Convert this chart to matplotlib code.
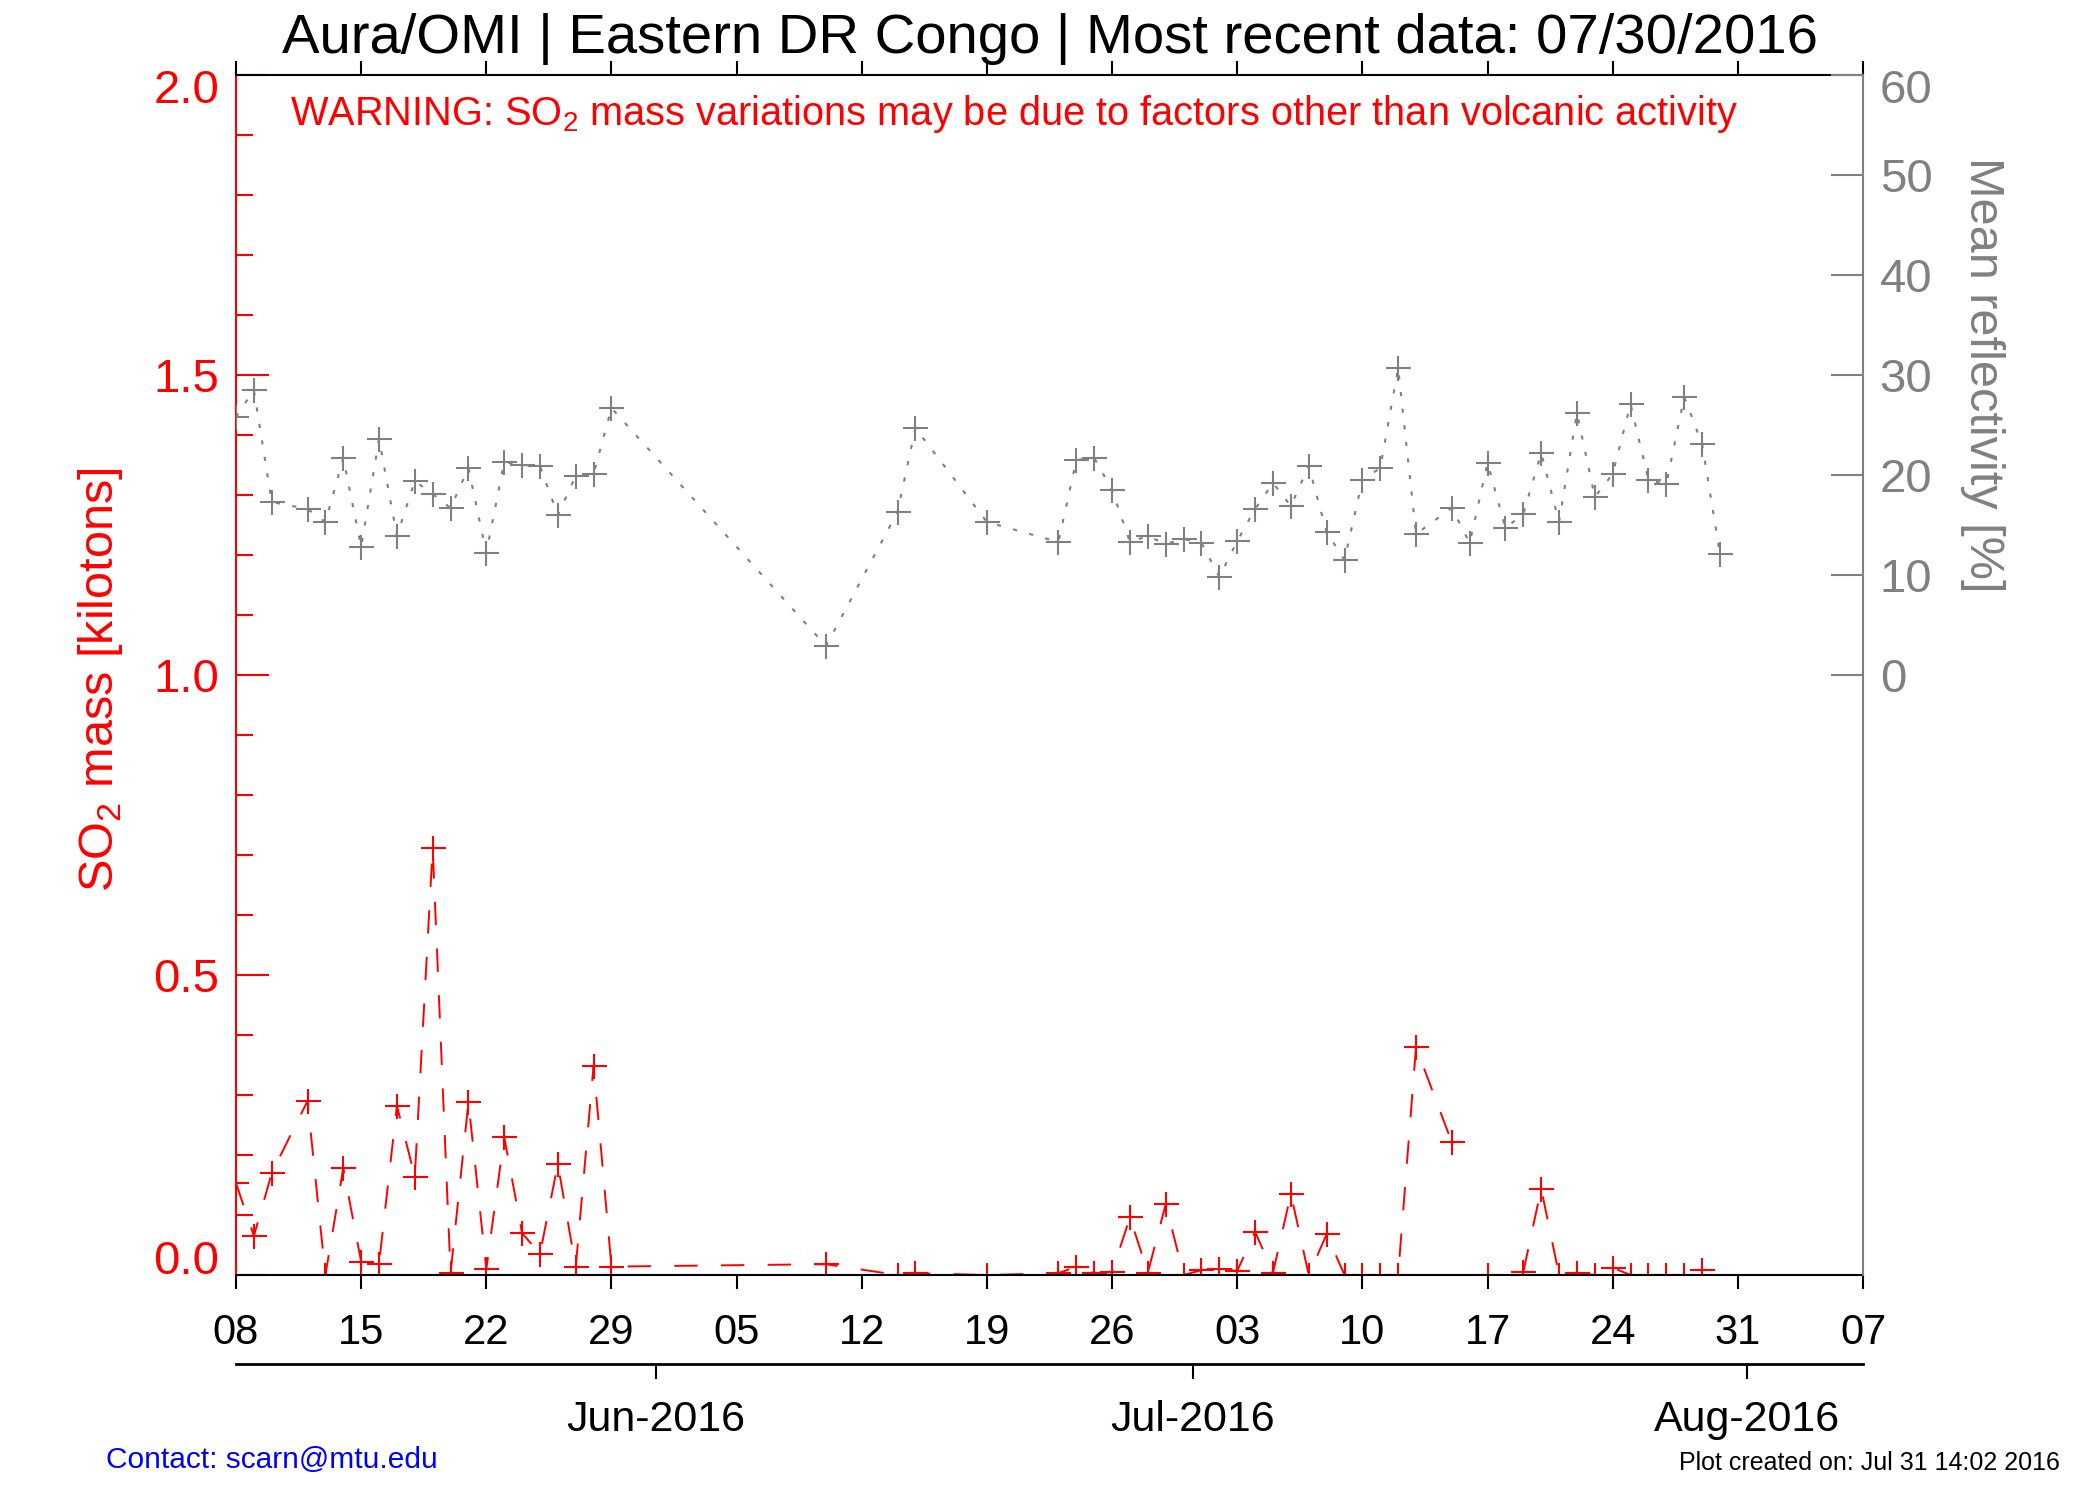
import matplotlib
matplotlib.use("Agg")
import matplotlib.pyplot as plt
import matplotlib.dates as mdates
import matplotlib.transforms as mtransforms
import numpy as np
import pandas as pd
from matplotlib.ticker import FixedLocator, FormatStrFormatter, MultipleLocator

plt.rcParams["font.family"] = ["Liberation Sans", "DejaVu Sans"]
plt.rcParams["mathtext.fontset"] = "custom"
plt.rcParams["mathtext.rm"] = "Liberation Sans"

RED = "#ff0000"
GRAY = "#808080"

obs_dates = [
    "2016-05-08", "2016-05-09", "2016-05-10", "2016-05-12", "2016-05-13", "2016-05-14",
    "2016-05-15", "2016-05-16", "2016-05-17", "2016-05-18", "2016-05-19", "2016-05-20",
    "2016-05-21", "2016-05-22", "2016-05-23", "2016-05-24", "2016-05-25", "2016-05-26",
    "2016-05-27", "2016-05-28", "2016-05-29",
    "2016-06-10", "2016-06-14", "2016-06-15", "2016-06-19", "2016-06-23", "2016-06-24",
    "2016-06-25", "2016-06-26", "2016-06-27", "2016-06-28", "2016-06-29", "2016-06-30",
    "2016-07-01", "2016-07-02", "2016-07-03", "2016-07-04", "2016-07-05", "2016-07-06",
    "2016-07-07", "2016-07-08", "2016-07-09", "2016-07-10", "2016-07-11", "2016-07-12",
    "2016-07-13",
    "2016-07-15", "2016-07-16", "2016-07-17", "2016-07-18", "2016-07-19", "2016-07-20",
    "2016-07-21", "2016-07-22", "2016-07-23", "2016-07-24", "2016-07-25", "2016-07-26",
    "2016-07-27", "2016-07-28", "2016-07-29", "2016-07-30",
]

so2_mass = [
    0.153, 0.065, 0.17, 0.29, 0.0, 0.178, 0.022, 0.019, 0.282, 0.164, 0.712, 0.003,
    0.288, 0.01, 0.23, 0.07, 0.035, 0.185, 0.013, 0.349, 0.014,
    0.018, 0.0, 0.003, 0.0, 0.003, 0.014, 0.003, 0.005, 0.096, 0.004, 0.118, 0.0,
    0.008, 0.01, 0.007, 0.072, 0.004, 0.135, 0.0, 0.068, 0.0, 0.0, 0.0, 0.0, 0.38,
    0.221, np.nan, 0.0, np.nan, 0.005, 0.144, 0.0, 0.003, 0.0, 0.012, 0.0, 0.0,
    0.0, 0.0, 0.008, np.nan,
]

reflectivity = [
    25.8, 28.5, 17.3, 16.6, 15.3, 21.7, 12.8, 23.6, 13.9, 19.4, 18.1, 16.7,
    20.7, 12.2, 21.3, 21.0, 20.9, 16.0, 19.9, 20.1, 26.7,
    2.9, 16.3, 24.7, 15.3, 13.3, 21.5, 21.7, 18.5, 13.3, 13.9, 13.1, 13.6,
    13.2, 9.8, 13.4, 16.6, 19.2, 16.9, 20.9, 14.3, 11.5, 19.5, 20.7, 30.7, 14.1,
    16.7, 13.2, 21.2, 14.7, 16.1, 22.2, 15.3, 26.2, 17.8, 20.1, 27.1, 19.5,
    19.1, 27.8, 23.1, 12.1,
]

so2_ticks = [0.0, 0.5, 1.0, 1.5, 2.0]
refl_ticks = [0, 10, 20, 30, 40, 50, 60]
month_starts = ["2016-06-01", "2016-07-01", "2016-08-01"]

title = "Aura/OMI | Eastern DR Congo | Most recent data: 07/30/2016"
warning = ("WARNING: SO$_2$ mass variations may be due to factors other than "
           "volcanic activity")

# IDL julian days sit at noon
x = pd.to_datetime(obs_dates) + pd.Timedelta(hours=12)
week_ticks = pd.date_range("2016-05-08 12:00", "2016-08-07 12:00", freq="7D")

fig = plt.figure(figsize=(21, 15), dpi=100)
ax = fig.add_axes([236 / 2100, 225 / 1500, 1627 / 2100, 1200 / 1500])
ax2 = ax.twinx()

ax.plot(x, so2_mass, color=RED, lw=1.4, linestyle=(0, (12, 12)),
        marker="+", ms=18, mew=1.5)
ax2.plot(x, reflectivity, color=GRAY, lw=1.5, linestyle=(0, (2, 6)),
         marker="+", ms=18, mew=1.5)

ax.set_xlim(week_ticks[0], week_ticks[-1])
ax.set_ylim(0, 2.0)
ax2.set_ylim(-60, 60)

# left axis
ax.yaxis.set_major_locator(FixedLocator(so2_ticks))
ax.yaxis.set_minor_locator(MultipleLocator(0.1))
ax.yaxis.set_major_formatter(FormatStrFormatter("%.1f"))
ax.tick_params(axis="y", which="major", direction="in", length=24, width=1.5,
               color=RED, labelcolor=RED, labelsize=34, pad=12)
ax.tick_params(axis="y", which="minor", direction="in", length=12, width=1.5,
               color=RED)
ax.spines["left"].set_color(RED)
ax.spines["right"].set_visible(False)
for s in ["left", "top", "bottom"]:
    ax.spines[s].set_linewidth(1.5)

# bottom/top day ticks
ax.set_xticks(week_ticks)
ax.xaxis.set_major_formatter(mdates.DateFormatter("%d"))
ax.tick_params(axis="x", which="both", direction="out", length=10, width=1.5,
               top=True, labelsize=30, pad=17)
ax.xaxis.set_minor_locator(FixedLocator([]))

# right axis
ax2.set_yticks(refl_ticks)
ax2.tick_params(axis="y", direction="in", length=23, width=1.5, color=GRAY,
                labelcolor=GRAY, labelsize=34, pad=12)
for s in ["left", "top", "bottom"]:
    ax2.spines[s].set_visible(False)
ax2.spines["right"].set_color(GRAY)
ax2.spines["right"].set_linewidth(1.5)

# end labels nudged inside the axis like IDL does
def nudge(tick, dy_px):
    lab = tick.label1 if tick.label1.get_visible() else tick.label2
    off = mtransforms.ScaledTranslation(0, dy_px / 100, fig.dpi_scale_trans)
    lab.set_transform(lab.get_transform() + off)

left_ticks = ax.yaxis.get_major_ticks()
nudge(left_ticks[0], 18)
nudge(left_ticks[-1], -11)
right_ticks = ax2.yaxis.get_major_ticks()
nudge(right_ticks[-1], -11)

# month axis underneath
sec = ax.secondary_xaxis(-89 / 1200)
sec.set_xticks(pd.to_datetime(month_starts))
sec.xaxis.set_major_formatter(mdates.DateFormatter("%b-%Y"))
sec.tick_params(axis="x", direction="out", length=11, width=1.5, labelsize=31,
                pad=15)
sec.spines["bottom"].set_linewidth(2)

# texts
fig.text(1049.5 / 2100, 1 - 53 / 1500, title, ha="center", va="baseline",
         fontsize=40.5)
fig.text(290 / 2100, 1 - 125 / 1500, warning, ha="left", va="baseline",
         fontsize=28.6, color=RED)
fig.text(101 / 2100, 1 - 680 / 1500, "SO$_2$ mass [kilotons]", rotation=90,
         ha="center", va="center", fontsize=35, color=RED)
fig.text(1983 / 2100, 1 - 375 / 1500, "Mean reflectivity [%]", rotation=-90,
         ha="center", va="center", fontsize=35, color=GRAY)
fig.text(106 / 2100, 1 - 1468 / 1500, "Contact: scarn@mtu.edu", ha="left",
         va="baseline", fontsize=21.5, color="#0000ff")
fig.text(2060 / 2100, 1 - 1470 / 1500, "Plot created on: Jul 31 14:02 2016",
         ha="right", va="baseline", fontsize=18)

fig.savefig("out.png", dpi=100, facecolor="white")
